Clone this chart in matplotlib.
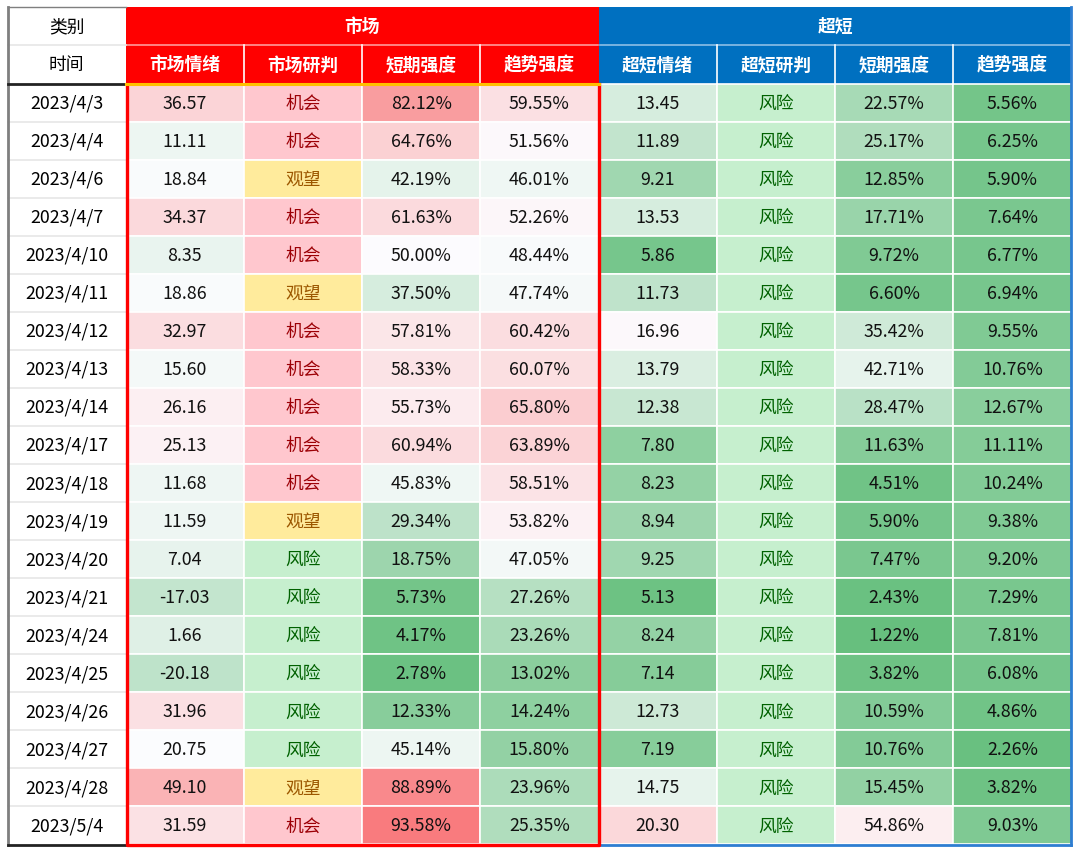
import numpy as np
import matplotlib
matplotlib.use('Agg')
import matplotlib.pyplot as plt
from matplotlib.patches import Rectangle
from matplotlib.colors import LinearSegmentedColormap, TwoSlopeNorm

plt.rcParams['font.family'] = ['Noto Sans CJK SC', 'DejaVu Sans']

dates = ['2023/4/3', '2023/4/4', '2023/4/6', '2023/4/7', '2023/4/10', '2023/4/11',
         '2023/4/12', '2023/4/13', '2023/4/14', '2023/4/17', '2023/4/18', '2023/4/19',
         '2023/4/20', '2023/4/21', '2023/4/24', '2023/4/25', '2023/4/26', '2023/4/27',
         '2023/4/28', '2023/5/4']

mkt_mood = [36.57, 11.11, 18.84, 34.37, 8.35, 18.86, 32.97, 15.60, 26.16, 25.13,
            11.68, 11.59, 7.04, -17.03, 1.66, -20.18, 31.96, 20.75, 49.10, 31.59]
mkt_judge = ['机会', '机会', '观望', '机会', '机会', '观望', '机会', '机会', '机会', '机会',
             '机会', '观望', '风险', '风险', '风险', '风险', '风险', '风险', '观望', '机会']
mkt_short = [82.12, 64.76, 42.19, 61.63, 50.00, 37.50, 57.81, 58.33, 55.73, 60.94,
             45.83, 29.34, 18.75, 5.73, 4.17, 2.78, 12.33, 45.14, 88.89, 93.58]
mkt_trend = [59.55, 51.56, 46.01, 52.26, 48.44, 47.74, 60.42, 60.07, 65.80, 63.89,
             58.51, 53.82, 47.05, 27.26, 23.26, 13.02, 14.24, 15.80, 23.96, 25.35]

ss_mood = [13.45, 11.89, 9.21, 13.53, 5.86, 11.73, 16.96, 13.79, 12.38, 7.80,
           8.23, 8.94, 9.25, 5.13, 8.24, 7.14, 12.73, 7.19, 14.75, 20.30]
ss_judge = ['风险'] * 20
ss_short = [22.57, 25.17, 12.85, 17.71, 9.72, 6.60, 35.42, 42.71, 28.47, 11.63,
            4.51, 5.90, 7.47, 2.43, 1.22, 3.82, 10.59, 10.76, 15.45, 54.86]
ss_trend = [5.56, 6.25, 5.90, 7.64, 6.77, 6.94, 9.55, 10.76, 12.67, 11.11,
            10.24, 9.38, 9.20, 7.29, 7.81, 6.08, 4.86, 2.26, 3.82, 9.03]

groups = ['市场', '超短']
col_names = ['市场情绪', '市场研判', '短期强度', '趋势强度', '超短情绪', '超短研判', '短期强度', '趋势强度']

# colour scales (excel style 3-colour)
cmap = LinearSegmentedColormap.from_list('gwr', ['#63BE7B', '#FCFCFF', '#F8696B'])
pct_norm = TwoSlopeNorm(vmin=0, vcenter=50, vmax=100)
mood_norm = TwoSlopeNorm(vmin=-82, vcenter=21, vmax=78)
ss_mood_norm = TwoSlopeNorm(vmin=4.3, vcenter=16.5, vmax=32)
judge_style = {'机会': ('#FFC7CE', '#9C0006'),
               '观望': ('#FFEB9C', '#9C5700'),
               '风险': ('#C6EFCE', '#006100')}

columns = [(mkt_mood, 'num', mood_norm), (mkt_judge, 'cat', None),
           (mkt_short, 'pct', pct_norm), (mkt_trend, 'pct', pct_norm),
           (ss_mood, 'num', ss_mood_norm), (ss_judge, 'cat', None),
           (ss_short, 'pct', pct_norm), (ss_trend, 'pct', pct_norm)]

fig = plt.figure(figsize=(10.8, 8.54), dpi=100)
ax = fig.add_axes([0, 0, 1, 1])
ax.set_xlim(0, 1080)
ax.set_ylim(854, 0)
ax.axis('off')

x0, date_w, col_w = 8, 117.5, 118.25
y0, head_h, row_h = 8, 38.25, 38.05
xd = x0 + date_w
yd = y0 + 2 * head_h
n = len(dates)
y_end = yd + n * row_h
x_end = xd + 8 * col_w
fs = 12.8

# header
head_colors = ['#FF0000', '#0070C0']
sep_colors = ['#FF9A9A', '#8DBFE6']
for g in range(2):
    gx = xd + g * 4 * col_w
    ax.add_patch(Rectangle((gx, y0), 4 * col_w, 2 * head_h, fc=head_colors[g], ec='none'))
    ax.text(gx + 2 * col_w, y0 + head_h / 2, groups[g], color='white', fontsize=fs,
            fontweight='bold', ha='center', va='center')
    ax.plot([gx + 1, gx + 4 * col_w - 1], [y0 + head_h, y0 + head_h], color=sep_colors[g], lw=1.2)
    for k in range(4):
        cx = gx + k * col_w
        if k > 0:
            ax.plot([cx, cx], [y0 + head_h, yd], color='white', lw=1.2)
        ax.text(cx + col_w / 2, y0 + 1.5 * head_h, col_names[g * 4 + k], color='white',
                fontsize=fs, fontweight='bold', ha='center', va='center')

# date column
ax.text(x0 + date_w / 2, y0 + head_h / 2, '类别', fontsize=fs, ha='center', va='center')
ax.text(x0 + date_w / 2, y0 + 1.5 * head_h, '时间', fontsize=fs, ha='center', va='center')
ax.plot([x0, xd], [y0 + head_h, y0 + head_h], color='#E6E6E6', lw=1.2)
for r, d in enumerate(dates):
    yc = yd + (r + 0.5) * row_h
    ax.text(x0 + date_w / 2, yc, d, fontsize=fs, ha='center', va='center')
    if r > 0:
        ax.plot([x0, xd], [yd + r * row_h, yd + r * row_h], color='#E6E6E6', lw=1.2)

# data cells
for c, (vals, kind, norm) in enumerate(columns):
    cx = xd + c * col_w
    for r, v in enumerate(vals):
        ry = yd + r * row_h
        if kind == 'cat':
            fc, tc = judge_style[v]
            txt = v
        else:
            fc = cmap(norm(v))
            tc = '#111111'
            txt = f'{v:.2f}%' if kind == 'pct' else f'{v:.2f}'
        ax.add_patch(Rectangle((cx, ry), col_w, row_h, fc=fc, ec='white', lw=1.2))
        ax.text(cx + col_w / 2, ry + row_h / 2, txt, color=tc, fontsize=fs,
                ha='center', va='center')

# borders
ax.plot([x0, x0], [y0, y_end], color='#7F7F7F', lw=2)
ax.plot([x0, xd], [y0, y0], color='#7F7F7F', lw=1)
ax.plot([x0, xd], [yd, yd], color='#222222', lw=2)
ax.plot([x0, xd], [y_end, y_end], color='#222222', lw=2)
xm = xd + 4 * col_w
ax.plot([xm, x_end - 1], [y_end, y_end], color='#2E7DD1', lw=2)
ax.plot([x_end - 1, x_end - 1], [y0, y_end], color='#2E7DD1', lw=2)
ax.plot([xd + 1, xd + 1, xm, xm], [yd, y_end, y_end, yd], color='#FF0000', lw=2.4)
ax.plot([xd, xm], [yd, yd], color='#FFC000', lw=2.2)

fig.savefig('out.png', dpi=100)
